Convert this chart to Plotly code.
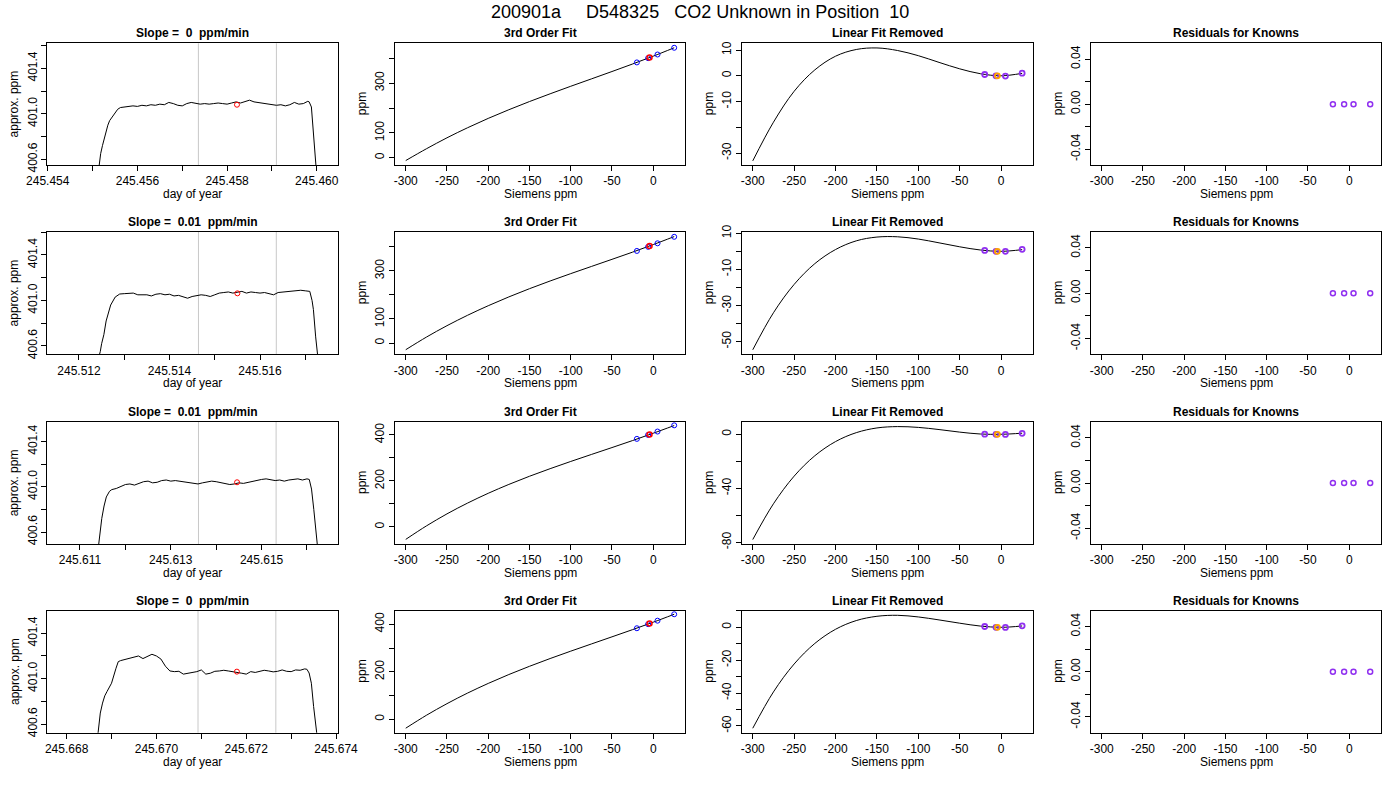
import plotly.graph_objects as go

NB = "\u00a0"  # keep R's double spaces

main_title = "200901a     D548325   CO2 Unknown in Position  10"
slope_titles = ["Slope =  0  ppm/min", "Slope =  0.01  ppm/min",
                "Slope =  0.01  ppm/min", "Slope =  0  ppm/min"]

# ---------------- column 1: analyser trace per run ----------------
doy_r1 = [245.45510, 245.45514, 245.45518, 245.45522, 245.45526, 245.45530,
          245.45534, 245.45538, 245.45544, 245.45550, 245.45556, 245.45562,
          245.4557, 245.4558, 245.4559, 245.4560, 245.4561, 245.4562, 245.4563,
          245.4564, 245.4565, 245.4566, 245.4567, 245.4568, 245.4569, 245.4570,
          245.4571, 245.4572, 245.4573, 245.4574, 245.4575, 245.4576, 245.4577,
          245.4578, 245.4579, 245.4580, 245.4581, 245.4582, 245.4583, 245.4584,
          245.4585, 245.4586, 245.4587, 245.4588, 245.4589, 245.4590, 245.4591,
          245.4592, 245.4593, 245.4594, 245.4595, 245.4596, 245.4597, 245.4598,
          245.45983, 245.45988, 245.45991, 245.45994, 245.45997, 245.46000]
ppm_r1 = [400.40, 400.55, 400.65, 400.72, 400.78, 400.85, 400.90, 400.94,
          400.975, 401.00, 401.04, 401.055,
          401.06, 401.065, 401.07, 401.065, 401.075, 401.07, 401.08, 401.075,
          401.085, 401.08, 401.10, 401.09, 401.075, 401.07, 401.09, 401.10,
          401.09, 401.085, 401.09, 401.085, 401.09, 401.095, 401.09, 401.085,
          401.095, 401.105, 401.095, 401.11, 401.12, 401.105, 401.10, 401.09,
          401.085, 401.08, 401.075, 401.08, 401.07, 401.08, 401.10, 401.085,
          401.09, 401.11,
          401.105, 401.06, 400.93, 400.78, 400.62, 400.45]

doy_r2 = [245.51240, 245.51247, 245.51250, 245.51255, 245.51260, 245.51265,
          245.51270, 245.51280, 245.51290,
          245.5130, 245.5131, 245.5132, 245.5133, 245.5134, 245.5135, 245.5136,
          245.5137, 245.5138, 245.5139, 245.5140, 245.5141, 245.5142, 245.5143,
          245.5144, 245.5145, 245.5146, 245.5147, 245.5148, 245.5149, 245.5150,
          245.5151, 245.5152, 245.5153, 245.5154, 245.5155, 245.5156, 245.5157,
          245.5158, 245.5159, 245.5160, 245.5161, 245.5162, 245.5163, 245.5164,
          245.5165, 245.5166, 245.5167, 245.5168, 245.5169, 245.5170, 245.5171,
          245.51715, 245.51718, 245.51723, 245.51727, 245.51730]
ppm_r2 = [400.45, 400.55, 400.62, 400.70, 400.82, 400.90, 400.96, 401.03, 401.057,
          401.06, 401.063, 401.065, 401.05, 401.048, 401.05, 401.04, 401.055,
          401.06, 401.05, 401.055, 401.04, 401.045, 401.035, 401.02, 401.035,
          401.045, 401.05, 401.045, 401.035, 401.05, 401.065, 401.07, 401.075,
          401.065, 401.07, 401.08, 401.065, 401.075, 401.07, 401.065, 401.07,
          401.06, 401.05, 401.07, 401.075, 401.08, 401.085, 401.085, 401.09,
          401.085, 401.08,
          401.00, 400.92, 400.68, 400.52, 400.42]

doy_r3 = [245.61140, 245.61144, 245.61148, 245.61153, 245.61158, 245.61165,
          245.6117, 245.6118, 245.6119, 245.6120, 245.6121, 245.6122, 245.6123,
          245.6124, 245.6125, 245.6126, 245.6127, 245.6128, 245.6129, 245.6130,
          245.6131, 245.6132, 245.6133, 245.6134, 245.6135, 245.6136, 245.6137,
          245.6138, 245.6139, 245.6140, 245.6141, 245.6142, 245.6143, 245.6144,
          245.6145, 245.6146, 245.6147, 245.6148, 245.6149, 245.6150, 245.6151,
          245.6152, 245.6153, 245.6154, 245.6155, 245.6156, 245.6157, 245.6158,
          245.6159, 245.6160,
          245.61605, 245.61610, 245.61615, 245.61618, 245.61622, 245.61625]
ppm_r3 = [400.45, 400.60, 400.72, 400.83, 400.91, 400.96,
          400.975, 400.985, 401.00, 401.02, 401.025, 401.015, 401.03, 401.045,
          401.05, 401.035, 401.04, 401.055, 401.06, 401.05, 401.055, 401.05,
          401.045, 401.04, 401.03, 401.025, 401.035, 401.04, 401.05, 401.045,
          401.035, 401.03, 401.02, 401.025, 401.035, 401.03, 401.04, 401.05,
          401.055, 401.065, 401.07, 401.06, 401.055, 401.06, 401.05, 401.06,
          401.065, 401.07, 401.06, 401.07,
          401.065, 400.98, 400.80, 400.66, 400.48, 400.40]

doy_r4 = [245.66868, 245.66875, 245.66880, 245.66885, 245.66890, 245.66900,
          245.66910, 245.66915,
          245.6692, 245.6693, 245.6694, 245.6695, 245.6696, 245.6697, 245.6698,
          245.6699, 245.6700, 245.6701, 245.6702, 245.6703, 245.6704, 245.6705,
          245.6706, 245.6707, 245.6708, 245.6709, 245.6710, 245.6711, 245.6712,
          245.6713, 245.6714, 245.6715, 245.6716, 245.6717, 245.6718, 245.6719,
          245.6720, 245.6721, 245.6722, 245.6723, 245.6724, 245.6725, 245.6726,
          245.6727, 245.6728, 245.6729, 245.6730, 245.6731, 245.6732, 245.6733,
          245.67335, 245.67340, 245.67345, 245.67350, 245.67355, 245.67360]
ppm_r4 = [400.45, 400.697, 400.785, 400.849, 400.887, 400.96, 401.092, 401.15,
          401.159, 401.17, 401.18, 401.185, 401.20, 401.177, 401.194, 401.215,
          401.20, 401.173, 401.11, 401.068, 401.062, 401.065, 401.04, 401.048,
          401.055, 401.062, 401.077, 401.04, 401.048, 401.065, 401.068, 401.074,
          401.068, 401.062, 401.06, 401.048, 401.04, 401.062, 401.055, 401.065,
          401.074, 401.068, 401.06, 401.065, 401.077, 401.065, 401.062, 401.077,
          401.074, 401.086,
          401.083, 401.05, 400.96, 400.755, 400.55, 400.42]

# averaging window (grey lines) and unknown mean (red circle)
window_r = [[245.45736, 245.45910], [245.51464, 245.51636],
            [245.61361, 245.61532], [245.670926, 245.672659]]
unk_doy = [245.45822, 245.51550, 245.61446, 245.671792]
unk_ppm = [401.08, 401.063, 401.04, 401.062]

# ---------------- columns 2-4: calibration ----------------
siemens_x = [-300, -275, -250, -225, -200, -175, -150, -125, -100, -75, -50, -25, 0, 25.4]
fit_r = [
    [-11.1, 36.1, 80.3, 120.8, 158.3, 193.1, 225.9, 257.1, 287.3, 316.9, 346.6, 376.9, 408.3, 442.0],
    [-28.0, 24.4, 72.1, 115.5, 155.2, 191.9, 226.0, 258.1, 288.7, 318.5, 348.2, 378.3, 409.6, 442.9],
    [-54.0, 4.5, 57.0, 104.0, 146.5, 185.1, 220.6, 253.5, 284.9, 315.3, 345.3, 375.9, 407.7, 441.0],
    [-37.4, 16.8, 65.8, 110.4, 151.0, 188.4, 223.0, 255.7, 286.7, 317.0, 347.0, 377.4, 408.6, 442.0],
]
linres_r = [
    [-33.0, -18.0, -6.0, 2.3, 7.6, 10.2, 10.8, 9.8, 7.8, 5.2, 2.7, 0.8, 0.0, 0.95],
    [-54.5, -34.0, -18.3, -6.8, 1.0, 5.8, 7.9, 8.05, 6.8, 4.7, 2.5, 0.73, 0.0, 0.93],
    [-78.0, -51.5, -31.0, -15.9, -5.4, 1.2, 4.7, 5.7, 5.1, 3.5, 1.6, 0.2, 0.0, 0.8],
    [-61.4, -39.3, -22.3, -9.8, -1.2, 4.1, 6.7, 7.3, 6.3, 4.5, 2.5, 0.75, 0.0, 0.81],
]
known_x = [-19.8, -6.2, 5.2, 25.4]
known_ppm = [383.2, 400.3, 415.0, 442.0]
known_linres_r = [[0.5, 0.0, -0.1, 1.0], [0.5, 0.0, 0.0, 1.1],
                  [0.1, 0.0, -0.1, 0.7], [0.5, 0.0, -0.1, 0.9]]
known_resid = [0.0, 0.0, 0.0, 0.0]
unk_x = -4.5
unk_fit_ppm = [402.5, 403.9, 402.0, 402.8]
unk_linres = [0.0, 0.0, 0.0, 0.0]

# ---------------- tick labels ----------------
doy_ticks = [
    ([245.454, 245.455, 245.456, 245.457, 245.458, 245.459, 245.460],
     ["245.454", "", "245.456", "", "245.458", "", "245.460"]),
    ([245.512, 245.513, 245.514, 245.515, 245.516, 245.517],
     ["245.512", "", "245.514", "", "245.516", ""]),
    ([245.611, 245.612, 245.613, 245.614, 245.615, 245.616],
     ["245.611", "", "245.613", "", "245.615", ""]),
    ([245.668, 245.669, 245.670, 245.671, 245.672, 245.673, 245.674],
     ["245.668", "", "245.670", "", "245.672", "", "245.674"]),
]
ppm_ticks = ([400.6, 400.8, 401.0, 401.2, 401.4, 401.6],
             ["400.6", "", "401.0", "", "401.4", ""])
siemens_ticks = ([-300, -250, -200, -150, -100, -50, 0],
                 ["-300", "-250", "-200", "-150", "-100", "-50", "0"])
fit_ticks = [
    ([0, 100, 200, 300, 400], ["0", "100", "", "300", ""]),
    ([0, 100, 200, 300, 400], ["0", "100", "", "300", ""]),
    ([0, 100, 200, 300, 400], ["0", "", "200", "", "400"]),
    ([0, 100, 200, 300, 400], ["0", "", "200", "", "400"]),
]
linres_ticks = [
    ([10, 0, -10, -20, -30], ["10", "0", "-10", "", "-30"]),
    ([10, 0, -10, -20, -30, -40, -50], ["10", "", "-10", "", "-30", "", "-50"]),
    ([0, -20, -40, -60, -80], ["0", "", "-40", "", "-80"]),
    ([10, 0, -10, -20, -30, -40, -50, -60], ["", "0", "", "-20", "", "-40", "", "-60"]),
]
resid_ticks = ([-0.04, -0.02, 0.0, 0.02, 0.04], ["-0.04", "", "0.00", "", "0.04"])

# ---------------- layout geometry (pixels) ----------------
W, H = 1400, 800
col_px = [(47.3, 338.3), (395, 685), (742, 1033), (1091, 1381)]
row_px = [(43.3, 165), (232, 354.3), (422, 544), (610.7, 732.7)]
doy_range = [[245.45399, 245.46048], [245.51130, 245.51773],
             [245.61028, 245.61669], [245.66757, 245.67405]]
ppm_range = [[400.55, 401.62], [400.527, 401.602], [400.494, 401.573], [400.524, 401.599]]
siemens_range = [-313, 38.5]
fit_range = [[-29, 460], [-47, 462], [-74, 456.5], [-56.4, 457]]
linres_range = [[-34.6, 12.6], [-57, 10.7], [-81.3, 9.1], [-64.1, 10.1]]
resid_range = [-0.054, 0.054]

FONT = "Liberation Sans, Arial, Helvetica, sans-serif"
PURPLE = "#9030F0"

fig = go.Figure()
layout = dict(width=W, height=H, margin=dict(l=0, r=0, t=0, b=0, pad=0, autoexpand=False),
              paper_bgcolor="white", plot_bgcolor="white", showlegend=False,
              font=dict(family=FONT, size=12, color="black"))
annotations = []
shapes = []

axis_base = dict(showline=True, linecolor="black", linewidth=1, mirror=True,
                 ticks="outside", ticklen=5, tickcolor="black", tickwidth=1,
                 showgrid=False, zeroline=False, fixedrange=True, automargin=False,
                 tickfont=dict(family=FONT, size=12, color="black"))


def nb(s):
    return s.replace(" ", NB)


doy_data = [(doy_r1, ppm_r1), (doy_r2, ppm_r2), (doy_r3, ppm_r3), (doy_r4, ppm_r4)]

for r in range(4):
    top, bot = row_px[r]
    for c in range(4):
        i = r * 4 + c + 1
        sfx = "" if i == 1 else str(i)
        xa, ya = "x" + sfx, "y" + sfx
        left, right = col_px[c]
        xdom = [left / W, right / W]
        ydom = [1 - bot / H, 1 - top / H]

        if c == 0:
            xr, (xtv, xtt) = doy_range[r], doy_ticks[r]
            yr, (ytv, ytt) = ppm_range[r], ppm_ticks
            title, xtitle, ytitle = slope_titles[r], "day of year", "approx. ppm"
            dx, dy = doy_data[r]
            for wx in window_r[r]:
                shapes.append(dict(type="line", xref=xa, yref=ya + " domain",
                                   x0=wx, x1=wx, y0=0, y1=1, layer="below",
                                   line=dict(color="#C8C8C8", width=1)))
            fig.add_trace(go.Scatter(x=dx, y=dy, mode="lines", xaxis=xa, yaxis=ya,
                                     line=dict(color="black", width=1)))
            fig.add_trace(go.Scatter(x=[unk_doy[r]], y=[unk_ppm[r]], mode="markers",
                                     xaxis=xa, yaxis=ya,
                                     marker=dict(symbol="circle-open", size=5, color="red",
                                                 line=dict(width=1))))
        elif c == 1:
            xr, (xtv, xtt) = siemens_range, siemens_ticks
            yr, (ytv, ytt) = fit_range[r], fit_ticks[r]
            title, xtitle, ytitle = "3rd Order Fit", "Siemens ppm", "ppm"
            fig.add_trace(go.Scatter(x=siemens_x, y=fit_r[r], mode="lines",
                                     xaxis=xa, yaxis=ya,
                                     line=dict(color="black", width=1, shape="spline")))
            fig.add_trace(go.Scatter(x=known_x, y=known_ppm, mode="markers",
                                     xaxis=xa, yaxis=ya,
                                     marker=dict(symbol="circle-open", size=5, color="blue",
                                                 line=dict(width=1))))
            fig.add_trace(go.Scatter(x=[unk_x], y=[unk_fit_ppm[r]], mode="markers",
                                     xaxis=xa, yaxis=ya,
                                     marker=dict(symbol="circle-open", size=5, color="red",
                                                 line=dict(width=1.5))))
        elif c == 2:
            xr, (xtv, xtt) = siemens_range, siemens_ticks
            yr, (ytv, ytt) = linres_range[r], linres_ticks[r]
            title, xtitle, ytitle = "Linear Fit Removed", "Siemens ppm", "ppm"
            fig.add_trace(go.Scatter(x=siemens_x, y=linres_r[r], mode="lines",
                                     xaxis=xa, yaxis=ya,
                                     line=dict(color="black", width=1, shape="spline")))
            fig.add_trace(go.Scatter(x=known_x, y=known_linres_r[r], mode="markers",
                                     xaxis=xa, yaxis=ya,
                                     marker=dict(symbol="circle-open", size=5, color=PURPLE,
                                                 line=dict(width=1.8))))
            fig.add_trace(go.Scatter(x=[unk_x], y=[unk_linres[r]], mode="markers",
                                     xaxis=xa, yaxis=ya,
                                     marker=dict(symbol="circle-open", size=5, color="#FFA500",
                                                 line=dict(width=1.8))))
        else:
            xr, (xtv, xtt) = siemens_range, siemens_ticks
            yr, (ytv, ytt) = resid_range, resid_ticks
            title, xtitle, ytitle = "Residuals for Knowns", "Siemens ppm", "ppm"
            fig.add_trace(go.Scatter(x=known_x, y=known_resid, mode="markers",
                                     xaxis=xa, yaxis=ya,
                                     marker=dict(symbol="circle-open", size=5, color=PURPLE,
                                                 line=dict(width=1.5))))

        layout["xaxis" + sfx] = dict(axis_base, domain=xdom, anchor=ya, range=xr,
                                     tickmode="array", tickvals=xtv, ticktext=xtt)
        layout["yaxis" + sfx] = dict(axis_base, domain=ydom, anchor=xa, range=yr,
                                     tickmode="array", tickvals=ytv, ticktext=ytt,
                                     tickangle=-90)

        cx = (left + right) / 2 / W
        annotations.append(dict(text="<b>" + nb(title) + "</b>", x=cx, y=1 - (top - 10) / H,
                                xref="paper", yref="paper", showarrow=False,
                                xanchor="center", yanchor="middle",
                                font=dict(family=FONT, size=12, color="black")))
        annotations.append(dict(text=xtitle, x=cx, y=1 - (bot + 29) / H,
                                xref="paper", yref="paper", showarrow=False,
                                xanchor="center", yanchor="middle",
                                font=dict(family=FONT, size=12, color="black")))
        annotations.append(dict(text=ytitle, x=(left - 33) / W, y=1 - (top + bot) / 2 / H,
                                xref="paper", yref="paper", showarrow=False, textangle=-90,
                                xanchor="center", yanchor="middle",
                                font=dict(family=FONT, size=12, color="black")))

annotations.append(dict(text=nb(main_title), x=0.5, y=1 - 12 / H, xref="paper", yref="paper",
                        showarrow=False, xanchor="center", yanchor="middle",
                        font=dict(family=FONT, size=18, color="black")))

layout["annotations"] = annotations
layout["shapes"] = shapes
fig.update_layout(**layout)
# the page body has a default 8px margin; drop it so the figure sits at the window origin
fig.write_html("out.html", config={"displayModeBar": False},
               post_script="document.body.style.margin='0px';")
